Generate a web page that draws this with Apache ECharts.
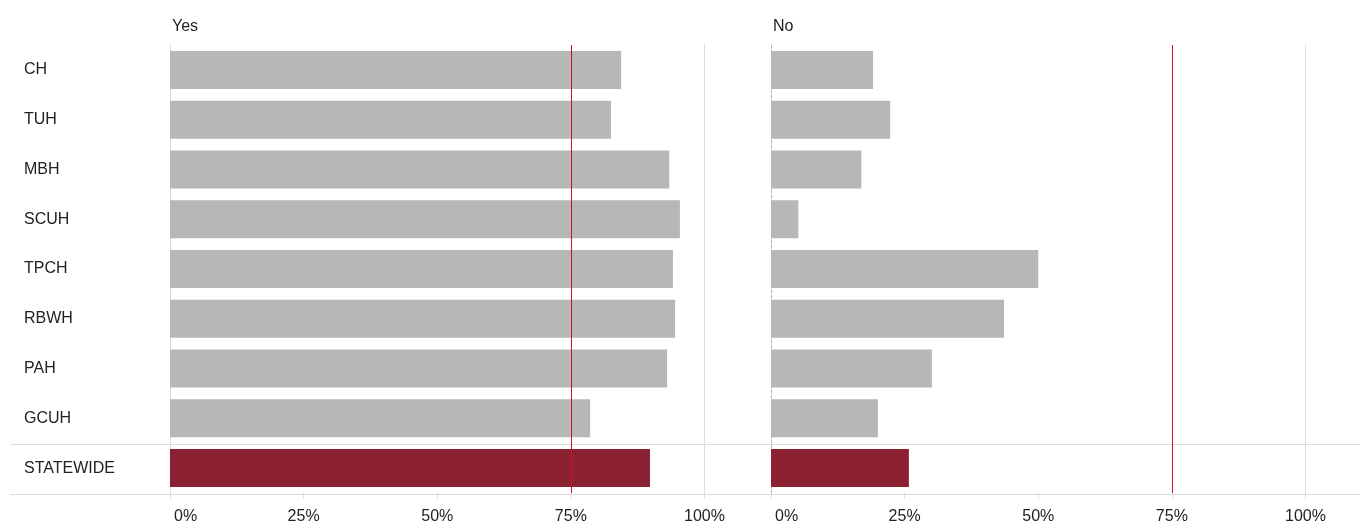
<!DOCTYPE html>
<html>
<head>
<meta charset="utf-8">
<script src="https://cdn.jsdelivr.net/npm/echarts@6/dist/echarts.min.js"></script>
<style>
html,body{margin:0;padding:0;background:#fff;}
#c{width:1360px;height:525px;}
</style>
</head>
<body>
<div id="c"></div>
<script>
const categories = ['CH','TUH','MBH','SCUH','TPCH','RBWH','PAH','GCUH','STATEWIDE'];
const yesValues = [84.4, 82.5, 93.4, 95.4, 94.1, 94.5, 93.0, 78.6, 89.8];
const noValues  = [19.1, 22.3, 16.9, 5.1, 50.0, 43.6, 30.1, 20.0, 25.8];
const panelTitles = ['Yes', 'No'];
const xTickValues = [0, 25, 50, 75, 100];
const targetValue = 75;
const highlightCategory = 'STATEWIDE';

const FONT = '"Liberation Sans", Arial, Helvetica, sans-serif';
const FS = 16;
const LINE = '#dcdcdc';
const GRAY = '#b7b7b7';
const MAROON = '#8b2132';
const TARGET = '#d0101f';

const chart = echarts.init(document.getElementById('c'), null, {renderer: 'canvas'});

function barColor(p) { return p.name === highlightCategory ? MAROON : GRAY; }

function panelXAxis(gridIndex) {
  return {
    type: 'value', gridIndex, min: xTickValues[0], max: xTickValues[xTickValues.length - 1],
    interval: xTickValues[1] - xTickValues[0],
    position: 'bottom',
    axisLine: {show: false},
    axisTick: {show: true, length: 6, lineStyle: {color: LINE, width: 1}},
    splitLine: {show: false},
    axisLabel: {
      show: true, margin: 16, color: '#222', fontFamily: FONT, fontSize: FS,
      alignMinLabel: 'left',
      formatter: v => v === 0 ? '{z|0%}' : v + '%',
      rich: {z: {padding: [0, 0, 0, 4], fontFamily: FONT, fontSize: FS, color: '#222'}}
    }
  };
}

function targetSeries(name, xi, yi) {
  return {
    type: 'line', name: name, xAxisIndex: xi, yAxisIndex: yi, data: [], z: 10,
    color: TARGET,
    markLine: {
      silent: true, symbol: 'none', label: {show: false}, z: 10,
      lineStyle: {color: TARGET, width: 1, type: 'solid', opacity: 1},
      emphasis: {disabled: true},
      data: [{xAxis: targetValue}]
    }
  };
}

const option = {
  animation: false,
  backgroundColor: '#fff',
  title: [
    {text: panelTitles[0], left: 167, top: 14, textStyle: {fontFamily: FONT, fontSize: FS, fontWeight: 'normal', color: '#222'}},
    {text: panelTitles[1], left: 768, top: 14, textStyle: {fontFamily: FONT, fontSize: FS, fontWeight: 'normal', color: '#222'}}
  ],
  grid: [
    {left: 170, top: 45, width: 534.5, height: 449},
    {left: 771, top: 45, width: 534.5, height: 449},
    {left: 11, right: 0, top: 44, height: 450},
    {left: 11, right: 0, top: 44, height: 400}
  ],
  xAxis: [
    panelXAxis(0),
    panelXAxis(1),
    {type: 'value', gridIndex: 2, min: 0, max: 1, position: 'top', axisLine: {show: true, lineStyle: {color: LINE, width: 1}}, axisTick: {show: false}, axisLabel: {show: false}, splitLine: {show: false}},
    {type: 'value', gridIndex: 2, min: 0, max: 1, position: 'bottom', axisLine: {show: true, lineStyle: {color: LINE, width: 1}}, axisTick: {show: false}, axisLabel: {show: false}, splitLine: {show: false}},
    {type: 'value', gridIndex: 3, min: 0, max: 1, position: 'bottom', axisLine: {show: true, lineStyle: {color: LINE, width: 1}}, axisTick: {show: false}, axisLabel: {show: false}, splitLine: {show: false}}
  ],
  yAxis: [
    {type: 'category', gridIndex: 0, data: categories, inverse: true, position: 'left',
     axisLine: {show: true, lineStyle: {color: LINE, width: 1}}, axisTick: {show: false}, splitLine: {show: false},
     axisLabel: {show: true, align: 'left', margin: 146, color: '#222', fontFamily: FONT, fontSize: FS}},
    {type: 'category', gridIndex: 0, data: categories, inverse: true, position: 'right',
     axisLine: {show: true, lineStyle: {color: LINE, width: 1}}, axisTick: {show: false}, axisLabel: {show: false}, splitLine: {show: false}},
    {type: 'category', gridIndex: 1, data: categories, inverse: true, position: 'left',
     axisLine: {show: true, lineStyle: {color: '#b4b4b4', width: 1, type: [3, 2]}}, axisTick: {show: false}, axisLabel: {show: false}, splitLine: {show: false}},
    {type: 'category', gridIndex: 1, data: categories, inverse: true, position: 'right',
     axisLine: {show: true, lineStyle: {color: LINE, width: 1}}, axisTick: {show: false}, axisLabel: {show: false}, splitLine: {show: false}},
    {type: 'value', gridIndex: 2, min: 0, max: 1, show: false},
    {type: 'value', gridIndex: 3, min: 0, max: 1, show: false}
  ],
  series: [
    {type: 'bar', name: panelTitles[0], xAxisIndex: 0, yAxisIndex: 0, data: yesValues, barWidth: 38, itemStyle: {color: barColor}, z: 3},
    {type: 'bar', name: panelTitles[1], xAxisIndex: 1, yAxisIndex: 2, data: noValues, barWidth: 38, itemStyle: {color: barColor}, z: 3},
    targetSeries('target-yes', 0, 0),
    targetSeries('target-no', 1, 2)
  ]
};
chart.setOption(option);
</script>
</body>
</html>
